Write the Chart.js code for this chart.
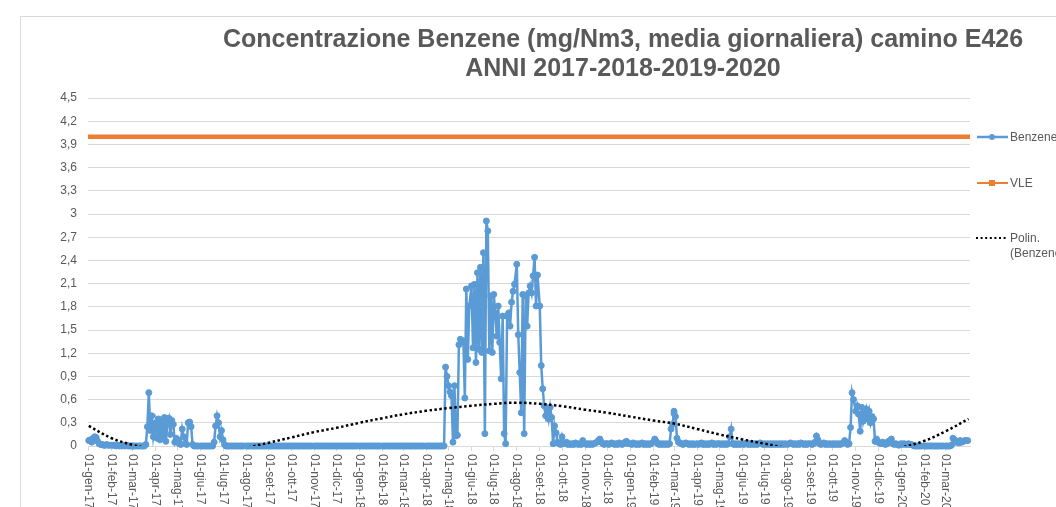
<!DOCTYPE html>
<html>
<head>
<meta charset="utf-8">
<script src="https://cdn.jsdelivr.net/npm/chart.js@4.4.1/dist/chart.umd.min.js"></script>
<style>
    body { margin: 0; background: #fff; overflow: hidden; }
    #wrap { position: relative; width: 1056px; height: 507px; overflow: hidden; }
    #frame { position: absolute; left: 20px; top: 16px; width: 1200px; height: 600px;
             border-left: 1px solid #d9d9d9; border-top: 1px solid #d9d9d9; pointer-events: none; }
    #benzeneChart { position: absolute; left: 0; top: 0; }
    .legendItem { position: absolute; left: 975px; font: 12px "Liberation Sans", Arial, sans-serif;
                  color: #595959; white-space: nowrap; }
    .legendItem svg { position: absolute; left: 0; }
    .legendItem span { position: absolute; left: 35px; width: 60px; white-space: normal; line-height: 15px; }
</style>
</head>
<body>
<div id="wrap">
    <div id="frame"></div>
    <canvas id="benzeneChart" width="1246" height="507"></canvas>
    <div id="legendBox"></div>
</div>
<script>
const monthLabels = [
    '01-gen-17', '01-feb-17', '01-mar-17', '01-apr-17', '01-mag-17', '01-giu-17',
    '01-lug-17', '01-ago-17', '01-set-17', '01-ott-17', '01-nov-17', '01-dic-17',
    '01-gen-18', '01-feb-18', '01-mar-18', '01-apr-18', '01-mag-18', '01-giu-18',
    '01-lug-18', '01-ago-18', '01-set-18', '01-ott-18', '01-nov-18', '01-dic-18',
    '01-gen-19', '01-feb-19', '01-mar-19', '01-apr-19', '01-mag-19', '01-giu-19',
    '01-lug-19', '01-ago-19', '01-set-19', '01-ott-19', '01-nov-19', '01-dic-19',
    '01-gen-20', '01-feb-20', '01-mar-20'
];

const yTicks = [0, 0.3, 0.6, 0.9, 1.2, 1.5, 1.8, 2.1, 2.4, 2.7, 3, 3.3, 3.6, 3.9, 4.2, 4.5];
const yTickLabels = ['0', '0,3', '0,6', '0,9', '1,2', '1,5', '1,8', '2,1', '2,4', '2,7', '3', '3,3', '3,6', '3,9', '4,2', '4,5'];

// daily values, one reading every 2 days, one row per month
const benzene2017 = [
    [0.07, 0.08, 0.05, 0.1, 0.12, 0.11, 0.06, 0.03, 0.02, 0.02, 0.01, 0.01, 0.02, 0.01, 0.01],
    [0.01, 0.01, 0.01, 0, 0.01, 0, 0.01, 0, 0.01, 0, 0.01, 0, 0, 0, 0],
    [0, 0, 0, 0, 0, 0, 0, 0, 0, 0.02, 0.25, 0.69, 0.2, 0.39, 0.12],
    [0.3, 0.1, 0.35, 0.08, 0.32, 0.12, 0.37, 0.06, 0.3, 0.36, 0.15, 0.33, 0.28, 0.05, 0.1],
    [0.08, 0.03, 0.02, 0.22, 0.12, 0.03, 0.02, 0.3, 0.31, 0.25, 0.02, 0, 0, 0, 0],
    [0, 0, 0, 0, 0, 0, 0, 0, 0, 0.05, 0.26, 0.39, 0.3, 0.12, 0.2],
    [0.08, 0.02, 0, 0, 0, 0, 0, 0, 0, 0, 0, 0, 0, 0, 0],
    [0, 0, 0, 0, 0, 0, 0, 0, 0, 0, 0, 0, 0, 0, 0],
    [0, 0, 0, 0, 0, 0, 0, 0, 0, 0, 0, 0, 0, 0, 0],
    [0, 0, 0, 0, 0, 0, 0, 0, 0, 0, 0, 0, 0, 0, 0],
    [0, 0, 0, 0, 0, 0, 0, 0, 0, 0, 0, 0, 0, 0, 0],
    [0, 0, 0, 0, 0, 0, 0, 0, 0, 0, 0, 0, 0, 0, 0]
];
const benzene2018 = [
    [0, 0, 0, 0, 0, 0, 0, 0, 0, 0, 0, 0, 0, 0, 0],
    [0, 0, 0, 0, 0, 0, 0, 0, 0, 0, 0, 0, 0, 0],
    [0, 0, 0, 0, 0, 0, 0, 0, 0, 0, 0, 0, 0, 0, 0],
    [0, 0, 0, 0, 0, 0, 0, 0, 0, 0, 0, 0, 0, 1.02, 0.9],
    [0.78, 0.7, 0.65, 0.05, 0.78, 0.13, 0.14, 1.31, 1.38, 1.34, 1.36, 0.62, 2.03, 1.12, 1.81],
    [2.07, 1.27, 2.09, 1.08, 2.24, 1.25, 2.31, 1.21, 2.5, 0.16, 2.91, 2.78, 1.23, 1.94, 1.21],
    [1.96, 1.72, 1.42, 1.81, 1.34, 0.87, 1.68, 0.16, 0.03, 1.68, 1.72, 1.55, 1.86, 2.0, 2.09],
    [2.35, 1.44, 0.95, 0.43, 1.96, 0.16, 1.94, 1.55, 1.98, 2.07, 1.98, 2.2, 2.44, 1.81, 2.21],
    [1.81, 1.04, 0.74, 0.52, 0.39, 0.47, 0.35, 0.5, 0.37, 0.03, 0.26, 0.17, 0.05, 0.03, 0.02],
    [0.12, 0.04, 0.03, 0.05, 0.02, 0.03, 0.02, 0.03, 0.02, 0.04, 0.03, 0.02, 0.03, 0.02, 0.07],
    [0.03, 0.02, 0.03, 0.02, 0.03, 0.02, 0.03, 0.04, 0.05, 0.07, 0.09, 0.05, 0.03, 0.02, 0.03],
    [0.03, 0.02, 0.03, 0.04, 0.03, 0.02, 0.03, 0.02, 0.04, 0.03, 0.02, 0.03, 0.05, 0.06, 0.03]
];
const benzene2019 = [
    [0.03, 0.02, 0.04, 0.03, 0.02, 0.03, 0.02, 0.03, 0.04, 0.02, 0.03, 0.02, 0.03, 0.02, 0.03],
    [0.05, 0.09, 0.06, 0.03, 0.02, 0.03, 0.02, 0.03, 0.02, 0.03, 0.02, 0.03, 0.22, 0.28, 0.45],
    [0.42, 0.38, 0.1, 0.05, 0.04, 0.03, 0.02, 0.03, 0.04, 0.03, 0.02, 0.03, 0.02, 0.03, 0.02],
    [0.03, 0.02, 0.03, 0.04, 0.02, 0.03, 0.02, 0.03, 0.02, 0.03, 0.04, 0.02, 0.03, 0.02, 0.03],
    [0.03, 0.02, 0.03, 0.02, 0.03, 0.02, 0.03, 0.12, 0.22, 0.03, 0.02, 0.03, 0.02, 0.03, 0.02],
    [0.03, 0.02, 0.03, 0.04, 0.02, 0.03, 0.02, 0.03, 0.02, 0.03, 0.02, 0.03, 0.04, 0.03, 0.02],
    [0.03, 0.02, 0.03, 0.02, 0.03, 0.02, 0.03, 0.02, 0.03, 0.02, 0.03, 0.02, 0.03, 0.02, 0.03],
    [0.02, 0.03, 0.04, 0.03, 0.02, 0.03, 0.02, 0.03, 0.02, 0.04, 0.03, 0.02, 0.03, 0.02, 0.03],
    [0.03, 0.02, 0.03, 0.05, 0.13, 0.08, 0.03, 0.02, 0.03, 0.04, 0.02, 0.03, 0.02, 0.03, 0.02],
    [0.03, 0.02, 0.03, 0.02, 0.03, 0.02, 0.03, 0.04, 0.07, 0.05, 0.02, 0.03, 0.24, 0.69, 0.6],
    [0.45, 0.52, 0.41, 0.19, 0.5, 0.32, 0.41, 0.48, 0.35, 0.45, 0.3, 0.38, 0.35, 0.06, 0.09],
    [0.05, 0.04, 0.03, 0.05, 0.04, 0.02, 0.03, 0.06, 0.05, 0.09, 0.03, 0.02, 0.03, 0.02, 0.01]
];
const benzene2020 = [
    [0.03, 0.02, 0.03, 0.02, 0.02, 0.03, 0.02, 0.02, 0.01, 0, 0, 0, 0, 0, 0],
    [0, 0, 0, 0, 0, 0, 0, 0, 0, 0, 0, 0, 0, 0],
    [0, 0, 0, 0, 0.01, 0.1, 0.08, 0.05, 0.06, 0.04, 0.07, 0.05, 0.06, 0.07, 0.07, 0.07]
];

// Excel polynomial trend, read at each month start plus the last day
const polinTrend = [
    0.26, 0.10, 0.015, -0.05, -0.09, -0.10, -0.08, -0.025, 0.043, 0.11, 0.18, 0.235,
    0.30, 0.36, 0.41, 0.455, 0.49, 0.52, 0.545, 0.56, 0.545, 0.515, 0.47, 0.43,
    0.38, 0.33, 0.29, 0.22, 0.15, 0.085, 0.03, -0.03, -0.08, -0.10, -0.10, -0.07,
    -0.02, 0.065, 0.19, 0.35
];

const vleLimit = 4;

const firstDay = Date.UTC(2017, 0, 1);
const monthStarts = monthLabels.map((l, i) => (Date.UTC(2017, i, 1) - firstDay) / 86400000);
const lastDay = 1186;

const benzeneMonths = [...benzene2017, ...benzene2018, ...benzene2019, ...benzene2020];
const benzenePoints = benzeneMonths.flatMap((row, i) =>
    row.map((v, j) => ({ x: monthStarts[i] + 2 * j, y: v })));
const trendPoints = polinTrend.map((v, i) => ({ x: i < monthStarts.length ? monthStarts[i] : lastDay, y: v }));
const vlePoints = [{ x: -1, y: vleLimit }, { x: 1188, y: vleLimit }];

const fontFamily = '"Liberation Sans", Arial, sans-serif';
const textColor = '#595959';
const gridColor = '#d9d9d9';

const monthLabelPlugin = {
    id: 'monthLabels',
    afterDraw(chart) {
        const scale = chart.scales.x;
        const ctx = chart.ctx;
        ctx.save();
        ctx.font = '12px ' + fontFamily;
        ctx.fillStyle = textColor;
        ctx.textAlign = 'left';
        ctx.textBaseline = 'middle';
        scale.ticks.forEach((t, i) => {
            const x = scale.getPixelForValue(t.value);
            ctx.save();
            ctx.translate(x, scale.top + 8);
            ctx.rotate(Math.PI / 2);
            ctx.fillText(monthLabels[i], 0, 0);
            ctx.restore();
        });
        ctx.restore();
    }
};

const benzeneChart = new Chart(document.getElementById('benzeneChart'), {
    type: 'line',
    data: {
        datasets: [{
            label: 'Benzene',
            data: benzenePoints,
            borderColor: '#5b9bd5',
            backgroundColor: '#5b9bd5',
            borderWidth: 2.5,
            pointRadius: 3,
            pointBorderWidth: 1,
            pointStyle: 'circle',
            tension: 0,
            clip: false,
            order: 1
        }, {
            label: 'VLE',
            data: vlePoints,
            borderColor: '#ed7d31',
            backgroundColor: '#ed7d31',
            borderWidth: 4.5,
            pointRadius: 0,
            pointStyle: 'rect',
            clip: false,
            order: 2
        }, {
            label: 'Polin. (Benzene)',
            data: trendPoints,
            borderColor: '#000000',
            borderWidth: 2.5,
            borderDash: [2.5, 2.5],
            pointRadius: 0,
            tension: 0.4,
            clip: 0,
            order: 0
        }]
    },
    options: {
        responsive: false,
        animation: false,
        devicePixelRatio: 1,
        layout: {
            padding: 0
        },
        plugins: {
            legend: { display: false },
            tooltip: { enabled: false },
            title: {
                display: true,
                text: ['Concentrazione Benzene (mg/Nm3, media giornaliera) camino E426', 'ANNI 2017-2018-2019-2020'],
                color: textColor,
                font: { family: fontFamily, size: 25, weight: 'bold', lineHeight: 1.16 },
                padding: { top: 26, bottom: 14 }
            }
        },
        scales: {
            x: {
                type: 'linear',
                min: -1,
                max: 1188,
                afterBuildTicks: s => { s.ticks = monthStarts.map(v => ({ value: v })); },
                afterFit: s => { s.height = 61; },
                ticks: { display: false },
                grid: { drawOnChartArea: false, drawTicks: true, tickLength: 5, color: gridColor },
                border: { color: gridColor, width: 1 }
            },
            y: {
                min: 0,
                max: 4.5,
                afterBuildTicks: s => { s.ticks = yTicks.map(v => ({ value: v })); },
                afterFit: s => { s.width = 88; },
                ticks: {
                    padding: 11,
                    color: textColor,
                    font: { family: fontFamily, size: 12 },
                    callback: (v, i) => yTickLabels[i]
                },
                grid: { color: gridColor, drawTicks: false },
                border: { display: false }
            },
            // empty axis that keeps room on the right for the legend
            legendRoom: {
                position: 'right',
                min: 0,
                max: 1,
                afterFit: s => { s.width = 276; },
                ticks: { display: false },
                grid: { drawOnChartArea: false, drawTicks: false },
                border: { display: false }
            }
        }
    },
    plugins: [monthLabelPlugin]
});

// legend on the right, built from the datasets
const legendTops = [137, 183, 238];
const legendBox = document.getElementById('legendBox');
benzeneChart.data.datasets.forEach((ds, i) => {
    const item = document.createElement('div');
    item.className = 'legendItem';
    item.style.top = (legendTops[i] - 7) + 'px';
    let mark = '';
    if (ds.label === 'Benzene') {
        mark = `<line x1="2" y1="7" x2="33" y2="7" stroke="${ds.borderColor}" stroke-width="2.5"/>
                <circle cx="17" cy="7" r="3" fill="${ds.borderColor}"/>`;
    } else if (ds.label === 'VLE') {
        mark = `<line x1="2" y1="7" x2="33" y2="7" stroke="${ds.borderColor}" stroke-width="2"/>
                <rect x="14" y="4" width="6" height="6" fill="${ds.borderColor}"/>`;
    } else {
        mark = `<line x1="1" y1="7" x2="33" y2="7" stroke="#000" stroke-width="2" stroke-dasharray="2 2.6"/>`;
    }
    item.innerHTML = `<svg width="34" height="14">${mark}</svg><span>${ds.label}</span>`;
    legendBox.appendChild(item);
});
</script>
</body>
</html>
